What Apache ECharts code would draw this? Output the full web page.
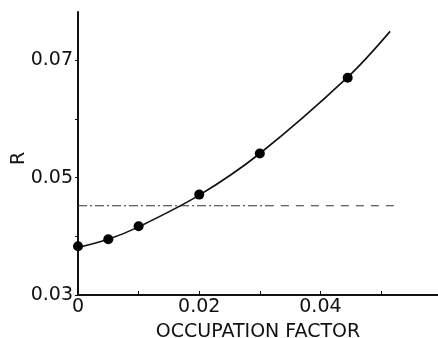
<!DOCTYPE html>
<html>
<head>
<meta charset="utf-8">
<script src="https://cdn.jsdelivr.net/npm/echarts@6/dist/echarts.min.js"></script>
<style>html,body{margin:0;padding:0;background:#fff}#c{width:438px;height:338px}</style>
</head>
<body>
<div id="c"></div>
<script>
// Data
var occupation = [0, 0.005, 0.010, 0.020, 0.030, 0.0445];
var rValues    = [0.0383, 0.0395, 0.0417, 0.0471, 0.0541, 0.0670];
// fitted curve (passes through the points, extends past last one)
var curveX = [0, 0.005, 0.010, 0.020, 0.030, 0.0445, 0.0515];
var curveY = [0.0381, 0.0395, 0.0416, 0.0470, 0.0541, 0.0671, 0.0749];
// horizontal reference level
var refLevel = 0.0452;
var refDashDotX = [0, 0.031];
var refDashX = [0.031, 0.0526];
var xTickLabels = ['0', '0.02', '0.04'];
var yTickLabels = ['0.03', '0.05', '0.07'];

function zipXY(xs, ys) { return xs.map(function (x, i) { return [x, ys[i]]; }); }
function level(xs, y) { return xs.map(function (x) { return [x, y]; }); }
function fmt(list) {
  return function (v) {
    for (var i = 0; i < list.length; i++) {
      if (Math.abs(parseFloat(list[i]) - v) < 1e-9) return list[i];
    }
    return '';
  };
}

var font = 'DejaVu Sans';
var chart = echarts.init(document.getElementById('c'));
chart.setOption({
  animation: false,
  backgroundColor: '#fff',
  grid: { left: 78, right: 0, top: 12, bottom: 43, containLabel: false, outerBoundsMode: 'none' },
  xAxis: {
    type: 'value', min: 0, max: 0.0594, interval: 0.01,
    name: 'OCCUPATION FACTOR', nameLocation: 'middle', nameGap: 28, nameMoveOverlap: false,
    nameTextStyle: { fontFamily: font, fontSize: 19, color: '#111' },
    axisLine: { show: true, onZero: false, lineStyle: { color: '#111', width: 2 } },
    axisTick: { show: true, inside: true, length: 4, lineStyle: { color: '#111', width: 1 } },
    axisLabel: { formatter: fmt(xTickLabels), fontFamily: font, fontSize: 19, color: '#111', margin: 3, showMaxLabel: false },
    splitLine: { show: false }
  },
  yAxis: {
    type: 'value', min: 0.03, max: 0.0782, interval: 0.01,
    name: 'R', nameLocation: 'middle', nameGap: 49, nameRotate: 90, nameMoveOverlap: false,
    nameTextStyle: { fontFamily: font, fontSize: 19, color: '#111', padding: [0, 10, 0, 0] },
    axisLine: { show: true, lineStyle: { color: '#111', width: 2 } },
    axisTick: { show: true, inside: false, length: 3, lineStyle: { color: '#111', width: 1 } },
    axisLabel: { formatter: fmt(yTickLabels), fontFamily: font, fontSize: 19, color: '#111', margin: 5, showMaxLabel: false },
    splitLine: { show: false }
  },
  series: [
    {
      type: 'line', data: level(refDashDotX, refLevel), showSymbol: false, symbol: 'none',
      lineStyle: { color: '#333', width: 1.2, type: [9, 3, 2, 3] }, z: 1
    },
    {
      type: 'line', data: level(refDashX, refLevel), showSymbol: false, symbol: 'none',
      lineStyle: { color: '#333', width: 1.2, type: [8, 7] }, z: 1
    },
    {
      type: 'line', data: zipXY(curveX, curveY), smooth: 0.35, showSymbol: false, symbol: 'none',
      lineStyle: { color: '#111', width: 1.6 }, z: 2
    },
    {
      type: 'scatter', data: zipXY(occupation, rValues), symbol: 'circle', symbolSize: 10,
      itemStyle: { color: '#000', opacity: 1 }, z: 3
    }
  ]
});
</script>
</body>
</html>
